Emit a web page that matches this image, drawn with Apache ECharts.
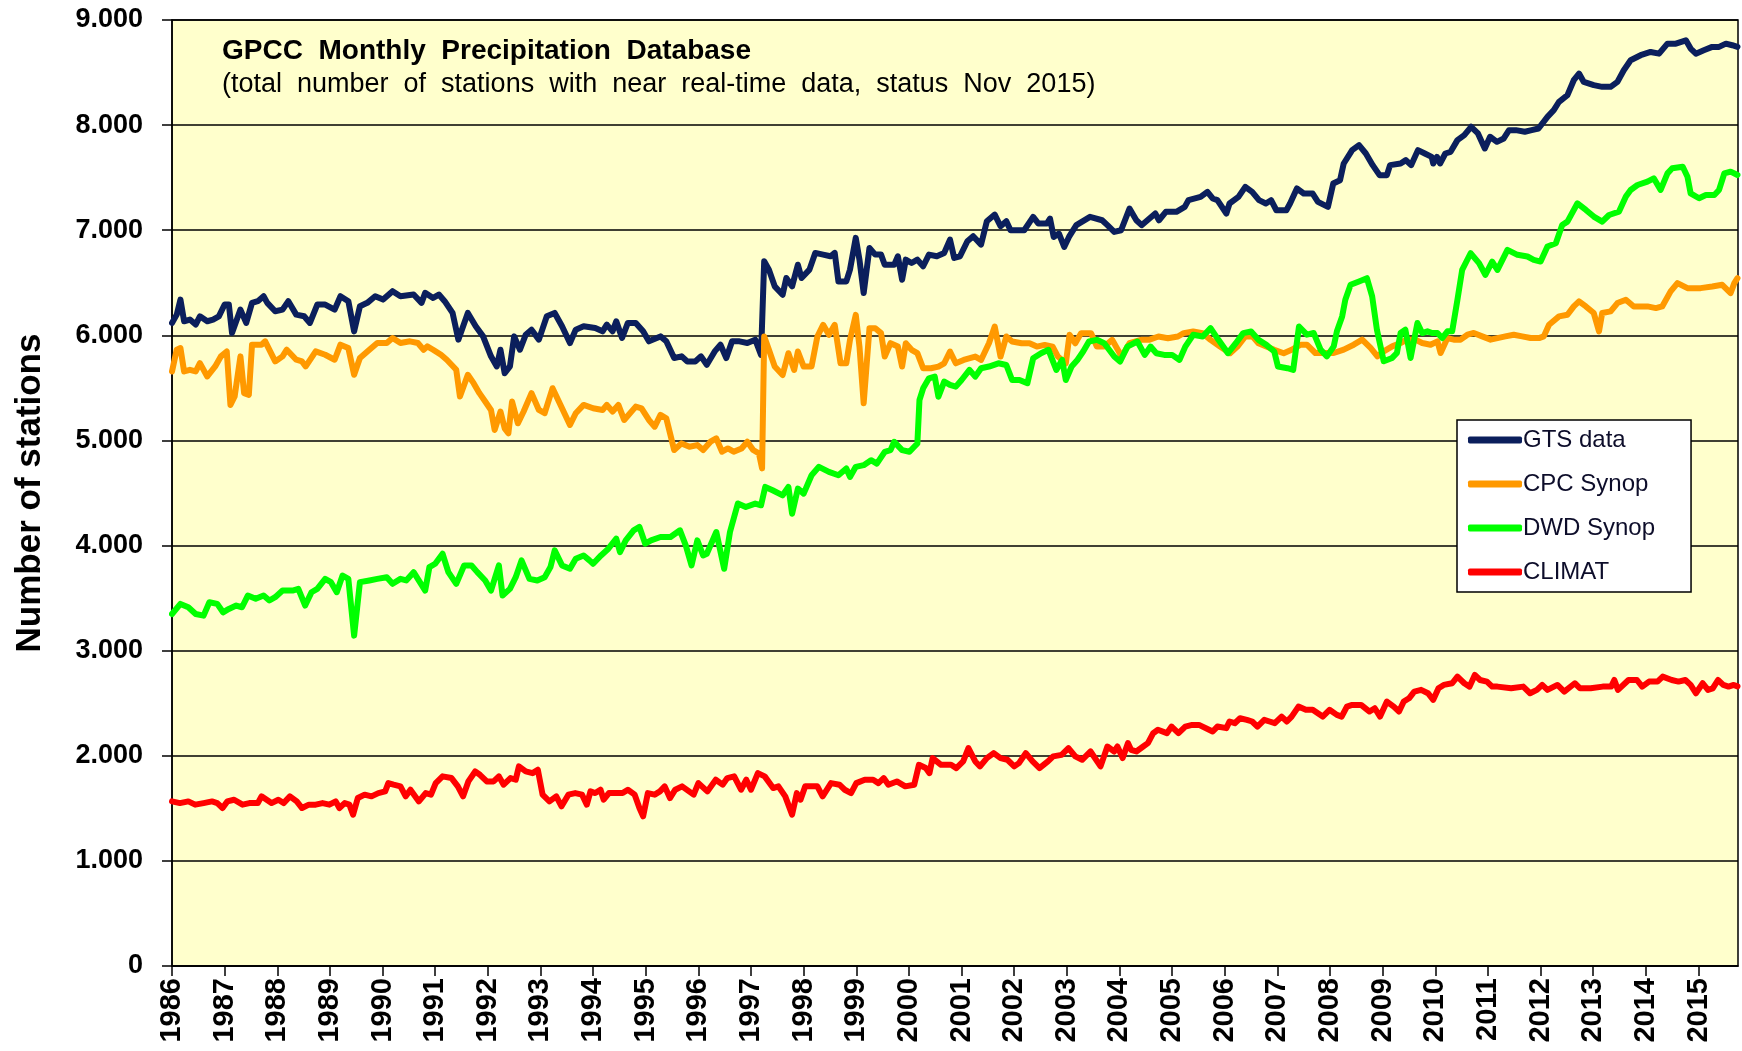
<!DOCTYPE html>
<html>
<head>
<meta charset="utf-8">
<script src="https://cdn.jsdelivr.net/npm/echarts@6/dist/echarts.min.js"></script>
<style>
html,body{margin:0;padding:0;background:#ffffff;}
#chart{width:1742px;height:1051px;}
</style>
</head>
<body>
<div id="chart"></div>
<script>
// ---- data (decimal year, number of stations) ----
const yearTicks = [1986,1987,1988,1989,1990,1991,1992,1993,1994,1995,1996,1997,1998,1999,2000,2001,2002,2003,2004,2005,2006,2007,2008,2009,2010,2011,2012,2013,2014,2015];
const seriesNames = ['GTS data','CPC Synop','DWD Synop','CLIMAT'];

const gtsData = [
[1986.00,6118],[1986.09,6197],[1986.16,6340],[1986.23,6134],[1986.34,6150],[1986.45,6102],[1986.53,6181],[1986.67,6134],[1986.78,6150],[1986.89,6181],
[1987.00,6293],[1987.08,6293],[1987.14,6022],[1987.30,6245],[1987.41,6118],[1987.52,6309],[1987.63,6325],[1987.74,6372],[1987.81,6309],[1987.96,6229],
[1988.10,6245],[1988.21,6325],[1988.36,6197],[1988.51,6181],[1988.62,6118],[1988.76,6293],[1988.91,6293],[1989.09,6245],[1989.20,6372],[1989.35,6325],
[1989.46,6038],[1989.57,6277],[1989.71,6309],[1989.86,6372],[1990.01,6340],[1990.19,6420],[1990.34,6372],[1990.59,6388],[1990.74,6309],[1990.81,6404],
[1990.96,6356],[1991.07,6388],[1991.18,6325],[1991.33,6213],[1991.44,5959],[1991.62,6213],[1991.77,6086],[1991.91,5990],[1992.06,5800],[1992.17,5704],
[1992.24,5863],[1992.32,5640],[1992.42,5704],[1992.50,5990],[1992.61,5863],[1992.72,6006],[1992.83,6054],[1992.97,5959],[1993.12,6181],[1993.27,6213],
[1993.41,6086],[1993.56,5927],[1993.67,6054],[1993.82,6086],[1994.04,6070],[1994.18,6038],[1994.26,6102],[1994.37,6038],[1994.44,6134],[1994.55,5975],
[1994.66,6118],[1994.81,6118],[1994.95,6038],[1995.06,5943],[1995.21,5975],[1995.28,5990],[1995.39,5943],[1995.54,5784],[1995.68,5800],[1995.79,5752],
[1995.94,5752],[1996.05,5800],[1996.16,5720],[1996.31,5847],[1996.42,5911],[1996.53,5784],[1996.64,5943],[1996.78,5943],[1996.93,5927],[1997.08,5959],
[1997.19,5814],[1997.25,6704],[1997.34,6625],[1997.45,6466],[1997.60,6386],[1997.67,6545],[1997.78,6466],[1997.89,6672],[1997.96,6545],[1998.11,6625],
[1998.22,6784],[1998.37,6768],[1998.51,6752],[1998.59,6784],[1998.66,6513],[1998.81,6513],[1998.88,6625],[1998.99,6927],[1999.06,6720],[1999.14,6402],
[1999.25,6831],[1999.36,6768],[1999.47,6768],[1999.54,6672],[1999.72,6672],[1999.79,6752],[1999.87,6529],[1999.94,6720],[2000.05,6688],[2000.16,6720],
[2000.27,6657],[2000.38,6768],[2000.53,6752],[2000.67,6784],[2000.78,6911],[2000.86,6736],[2000.97,6752],[2001.11,6895],[2001.22,6943],[2001.37,6863],
[2001.48,7086],[2001.63,7149],[2001.74,7038],[2001.85,7086],[2001.93,7000],[2002.19,7000],[2002.36,7127],[2002.46,7063],[2002.62,7063],[2002.68,7111],
[2002.75,6936],[2002.85,6968],[2002.95,6841],[2003.04,6936],[2003.18,7048],[2003.44,7127],[2003.67,7095],[2003.77,7048],[2003.90,6984],[2004.03,7000],
[2004.19,7206],[2004.32,7095],[2004.42,7048],[2004.68,7159],[2004.75,7095],[2004.88,7175],[2005.08,7175],[2005.24,7222],[2005.31,7286],[2005.54,7317],
[2005.67,7365],[2005.77,7302],[2005.86,7286],[2006.03,7159],[2006.09,7254],[2006.26,7317],[2006.39,7413],[2006.52,7365],[2006.65,7286],[2006.78,7254],
[2006.88,7286],[2006.98,7190],[2007.17,7190],[2007.24,7254],[2007.37,7397],[2007.50,7349],[2007.67,7349],[2007.77,7270],[2007.96,7222],[2008.06,7444],
[2008.19,7476],[2008.26,7635],[2008.42,7762],[2008.55,7810],[2008.68,7730],[2008.81,7619],[2008.94,7524],[2009.08,7524],[2009.14,7619],[2009.34,7635],
[2009.44,7667],[2009.54,7619],[2009.67,7762],[2009.80,7730],[2009.93,7698],[2009.96,7635],[2010.03,7698],[2010.09,7635],[2010.19,7730],[2010.29,7746],
[2010.42,7857],[2010.55,7905],[2010.68,7984],[2010.81,7921],[2010.94,7778],[2011.04,7889],[2011.17,7841],[2011.30,7873],[2011.40,7952],[2011.53,7952],
[2011.70,7937],[2011.83,7952],[2011.96,7968],[2012.13,8079],[2012.25,8142],[2012.35,8222],[2012.51,8285],[2012.63,8427],[2012.73,8490],[2012.82,8411],
[2013.01,8380],[2013.17,8364],[2013.33,8364],[2013.46,8411],[2013.58,8522],[2013.71,8617],[2013.90,8665],[2014.09,8696],[2014.25,8680],[2014.41,8775],
[2014.57,8775],[2014.76,8807],[2014.85,8728],[2014.95,8680],[2015.10,8712],[2015.26,8744],[2015.39,8744],[2015.52,8775],[2015.64,8760],[2015.74,8744]
];

const cpcData = [
[1986.00,5656],[1986.09,5863],[1986.16,5879],[1986.23,5656],[1986.34,5672],[1986.45,5656],[1986.53,5736],[1986.67,5609],[1986.82,5704],[1986.93,5800],
[1987.04,5847],[1987.11,5338],[1987.19,5418],[1987.30,5800],[1987.37,5450],[1987.46,5434],[1987.52,5911],[1987.70,5911],[1987.77,5943],[1987.96,5752],
[1988.10,5800],[1988.18,5863],[1988.36,5768],[1988.47,5752],[1988.54,5704],[1988.73,5847],[1988.91,5815],[1989.09,5768],[1989.20,5911],[1989.35,5879],
[1989.46,5625],[1989.57,5784],[1989.75,5863],[1989.90,5927],[1990.08,5927],[1990.19,5975],[1990.34,5927],[1990.52,5943],[1990.67,5927],[1990.78,5863],
[1990.85,5895],[1990.96,5863],[1991.11,5815],[1991.22,5768],[1991.40,5672],[1991.47,5418],[1991.62,5625],[1991.73,5545],[1991.84,5450],[1991.95,5370],
[1992.06,5290],[1992.13,5100],[1992.24,5275],[1992.32,5115],[1992.39,5068],[1992.46,5370],[1992.57,5163],[1992.68,5275],[1992.83,5450],[1992.97,5290],
[1993.08,5259],[1993.23,5497],[1993.41,5306],[1993.56,5147],[1993.67,5259],[1993.82,5338],[1994.00,5306],[1994.18,5290],[1994.26,5338],[1994.37,5275],
[1994.48,5338],[1994.59,5195],[1994.81,5322],[1994.92,5306],[1995.06,5195],[1995.17,5131],[1995.28,5243],[1995.39,5211],[1995.54,4909],[1995.68,4972],
[1995.83,4940],[1995.98,4956],[1996.09,4909],[1996.23,4988],[1996.34,5020],[1996.45,4893],[1996.56,4924],[1996.67,4893],[1996.82,4924],[1996.93,4988],
[1997.04,4909],[1997.15,4877],[1997.21,4734],[1997.25,5989],[1997.34,5862],[1997.45,5703],[1997.60,5623],[1997.71,5830],[1997.82,5671],[1997.89,5846],
[1998.00,5703],[1998.15,5703],[1998.26,5989],[1998.37,6100],[1998.48,6005],[1998.59,6100],[1998.70,5734],[1998.81,5734],[1998.88,5957],[1998.99,6195],
[1999.06,5893],[1999.14,5353],[1999.25,6068],[1999.36,6068],[1999.47,6021],[1999.54,5798],[1999.65,5925],[1999.79,5893],[1999.87,5703],[1999.94,5925],
[2000.05,5862],[2000.16,5830],[2000.27,5687],[2000.42,5687],[2000.56,5703],[2000.67,5734],[2000.78,5846],[2000.89,5734],[2001.04,5766],[2001.26,5798],
[2001.37,5766],[2001.52,5925],[2001.63,6084],[2001.74,5798],[2001.85,5989],[2001.96,5941],[2002.14,5925],[2002.29,5925],[2002.43,5893],[2002.58,5909],
[2002.73,5893],[2002.83,5798],[2002.98,5734],[2003.05,6005],[2003.16,5925],[2003.27,6021],[2003.46,6021],[2003.57,5893],[2003.71,5893],[2003.86,5957],
[2004.04,5798],[2004.19,5925],[2004.41,5957],[2004.56,5957],[2004.74,5989],[2004.92,5973],[2005.11,5989],[2005.22,6021],[2005.40,6036],[2005.58,6021],
[2005.73,5957],[2005.91,5893],[2006.10,5830],[2006.24,5893],[2006.39,5989],[2006.53,5989],[2006.64,5925],[2006.79,5893],[2006.94,5862],[2007.12,5830],
[2007.27,5862],[2007.44,5911],[2007.56,5911],[2007.72,5832],[2007.88,5832],[2008.07,5832],[2008.26,5864],[2008.45,5911],[2008.61,5959],[2008.77,5880],
[2008.90,5800],[2009.02,5848],[2009.18,5895],[2009.34,5927],[2009.46,5959],[2009.62,5959],[2009.75,5927],[2009.91,5911],[2010.04,5943],[2010.10,5832],
[2010.23,5974],[2010.35,5959],[2010.48,5959],[2010.61,6006],[2010.73,6022],[2010.89,5990],[2011.05,5959],[2011.18,5974],[2011.33,5990],[2011.49,6006],
[2011.65,5990],[2011.81,5974],[2011.97,5974],[2012.06,5990],[2012.16,6101],[2012.35,6180],[2012.51,6196],[2012.63,6275],[2012.73,6323],[2012.86,6275],
[2013.01,6212],[2013.11,6038],[2013.17,6212],[2013.33,6228],[2013.46,6307],[2013.62,6338],[2013.77,6275],[2014.03,6275],[2014.19,6259],[2014.31,6275],
[2014.47,6418],[2014.60,6497],[2014.79,6449],[2015.04,6449],[2015.26,6465],[2015.45,6481],[2015.61,6402],[2015.68,6497],[2015.74,6544]
];

const dwdData = [
[1986.00,3349],[1986.16,3445],[1986.31,3413],[1986.45,3349],[1986.60,3333],[1986.71,3461],[1986.86,3445],[1986.97,3365],[1987.08,3397],[1987.22,3429],
[1987.33,3413],[1987.44,3524],[1987.59,3493],[1987.74,3524],[1987.85,3477],[1987.96,3509],[1988.10,3572],[1988.29,3572],[1988.40,3588],[1988.53,3429],
[1988.65,3556],[1988.76,3588],[1988.91,3683],[1989.02,3652],[1989.13,3556],[1989.24,3715],[1989.35,3683],[1989.46,3143],[1989.57,3652],[1989.75,3668],
[1989.90,3683],[1990.08,3699],[1990.19,3636],[1990.34,3683],[1990.45,3668],[1990.59,3747],[1990.81,3572],[1990.89,3795],[1991.00,3827],[1991.14,3922],
[1991.25,3747],[1991.40,3636],[1991.55,3811],[1991.69,3811],[1991.80,3747],[1991.95,3668],[1992.06,3572],[1992.21,3811],[1992.28,3524],[1992.42,3588],
[1992.53,3699],[1992.64,3859],[1992.79,3683],[1992.94,3668],[1993.08,3699],[1993.19,3795],[1993.27,3954],[1993.41,3811],[1993.56,3779],[1993.67,3874],
[1993.82,3906],[1993.93,3859],[1994.00,3827],[1994.15,3906],[1994.29,3970],[1994.44,4065],[1994.51,3938],[1994.62,4049],[1994.77,4145],[1994.88,4177],
[1994.99,4018],[1995.10,4049],[1995.28,4081],[1995.47,4081],[1995.65,4145],[1995.76,4002],[1995.87,3811],[1995.98,4049],[1996.09,3906],[1996.16,3922],
[1996.34,4129],[1996.49,3779],[1996.60,4129],[1996.75,4400],[1996.90,4367],[1997.08,4399],[1997.19,4383],[1997.27,4558],[1997.41,4526],[1997.60,4478],
[1997.71,4558],[1997.78,4303],[1997.89,4542],[1998.00,4494],[1998.15,4669],[1998.29,4749],[1998.48,4701],[1998.66,4669],[1998.81,4733],[1998.88,4653],
[1998.99,4749],[1999.14,4765],[1999.28,4812],[1999.39,4780],[1999.54,4892],[1999.65,4908],[1999.72,4987],[1999.87,4908],[2000.01,4892],[2000.16,4971],
[2000.20,5385],[2000.27,5496],[2000.38,5591],[2000.49,5607],[2000.56,5416],[2000.67,5560],[2000.78,5528],[2000.89,5512],[2001.00,5575],[2001.15,5671],
[2001.26,5607],[2001.37,5687],[2001.52,5703],[2001.70,5734],[2001.85,5718],[2001.96,5575],[2002.10,5575],[2002.25,5544],[2002.36,5782],[2002.51,5830],
[2002.65,5862],[2002.80,5671],[2002.91,5766],[2002.98,5575],[2003.09,5703],[2003.20,5766],[2003.31,5846],[2003.42,5941],[2003.57,5957],[2003.71,5925],
[2003.90,5798],[2004.01,5750],[2004.15,5893],[2004.34,5941],[2004.48,5814],[2004.59,5893],[2004.70,5830],[2004.85,5814],[2005.00,5814],[2005.14,5766],
[2005.25,5893],[2005.40,6005],[2005.58,5989],[2005.73,6068],[2005.88,5957],[2006.06,5830],[2006.21,5925],[2006.35,6021],[2006.50,6036],[2006.64,5957],
[2006.79,5909],[2006.94,5846],[2007.01,5703],[2007.19,5687],[2007.30,5671],[2007.41,6084],[2007.56,6006],[2007.69,6022],[2007.82,5864],[2007.94,5800],
[2008.07,5895],[2008.13,6038],[2008.23,6180],[2008.29,6338],[2008.39,6481],[2008.55,6513],[2008.70,6544],[2008.80,6370],[2008.89,6054],[2009.02,5753],
[2009.18,5785],[2009.27,5832],[2009.34,6022],[2009.43,6054],[2009.53,5785],[2009.66,6117],[2009.75,6022],[2009.85,6038],[2009.94,6022],[2010.04,6022],
[2010.13,5974],[2010.23,6038],[2010.32,6038],[2010.42,6338],[2010.51,6623],[2010.67,6781],[2010.83,6687],[2010.95,6576],[2011.08,6702],[2011.18,6623],
[2011.37,6813],[2011.56,6766],[2011.75,6750],[2011.87,6718],[2012.00,6702],[2012.13,6845],[2012.29,6876],[2012.41,7050],[2012.51,7082],[2012.70,7256],
[2012.86,7193],[2013.01,7130],[2013.17,7082],[2013.30,7145],[2013.49,7177],[2013.62,7320],[2013.71,7383],[2013.84,7430],[2014.03,7462],[2014.15,7494],
[2014.28,7383],[2014.41,7541],[2014.50,7589],[2014.70,7604],[2014.79,7509],[2014.85,7351],[2015.01,7304],[2015.14,7335],[2015.30,7335],[2015.39,7383],
[2015.49,7541],[2015.61,7557],[2015.74,7525]
];

const climatData = [
[1986.00,1566],[1986.15,1550],[1986.31,1566],[1986.44,1535],[1986.60,1550],[1986.76,1566],[1986.86,1550],[1986.96,1503],[1987.05,1566],[1987.18,1582],
[1987.34,1535],[1987.47,1550],[1987.63,1550],[1987.70,1614],[1987.89,1550],[1988.02,1582],[1988.12,1550],[1988.24,1614],[1988.37,1566],[1988.47,1503],
[1988.60,1535],[1988.73,1535],[1988.86,1550],[1988.99,1535],[1989.11,1566],[1989.18,1503],[1989.28,1550],[1989.37,1535],[1989.44,1440],[1989.53,1598],
[1989.66,1630],[1989.79,1614],[1989.92,1645],[1990.05,1661],[1990.11,1740],[1990.21,1725],[1990.34,1709],[1990.44,1614],[1990.53,1677],[1990.69,1566],
[1990.82,1645],[1990.92,1630],[1991.01,1740],[1991.14,1804],[1991.31,1788],[1991.43,1709],[1991.53,1614],[1991.63,1756],[1991.76,1851],[1991.85,1819],
[1991.98,1756],[1992.11,1756],[1992.21,1804],[1992.30,1725],[1992.43,1788],[1992.53,1772],[1992.59,1899],[1992.72,1851],[1992.85,1835],[1992.95,1867],
[1993.04,1630],[1993.17,1566],[1993.30,1614],[1993.40,1519],[1993.53,1630],[1993.66,1645],[1993.79,1630],[1993.88,1535],[1993.95,1661],[1994.04,1645],
[1994.14,1677],[1994.20,1582],[1994.30,1645],[1994.56,1645],[1994.66,1677],[1994.79,1630],[1994.88,1503],[1994.95,1424],[1995.04,1645],[1995.17,1630],
[1995.27,1661],[1995.36,1709],[1995.46,1598],[1995.56,1677],[1995.69,1709],[1995.91,1630],[1996.00,1740],[1996.17,1661],[1996.33,1772],[1996.46,1725],
[1996.55,1788],[1996.68,1804],[1996.81,1677],[1996.91,1772],[1997.00,1677],[1997.13,1835],[1997.26,1804],[1997.42,1693],[1997.52,1709],[1997.65,1614],
[1997.78,1440],[1997.87,1645],[1997.94,1582],[1998.03,1709],[1998.26,1709],[1998.36,1614],[1998.52,1740],[1998.68,1725],[1998.78,1677],[1998.90,1645],
[1999.00,1740],[1999.16,1772],[1999.32,1772],[1999.42,1740],[1999.52,1788],[1999.61,1725],[1999.77,1756],[1999.93,1709],[2000.10,1725],[2000.19,1914],
[2000.32,1883],[2000.39,1835],[2000.45,1978],[2000.61,1914],[2000.80,1914],[2000.90,1883],[2001.03,1946],[2001.13,2073],[2001.26,1946],[2001.35,1899],
[2001.48,1978],[2001.61,2025],[2001.74,1978],[2001.87,1962],[2002.00,1899],[2002.09,1930],[2002.22,2025],[2002.35,1946],[2002.48,1883],[2002.64,1946],
[2002.74,1994],[2002.90,2009],[2003.03,2073],[2003.16,1994],[2003.29,1962],[2003.45,2041],[2003.64,1899],[2003.77,2088],[2003.90,2041],[2003.96,2088],
[2004.06,1978],[2004.16,2120],[2004.22,2057],[2004.32,2041],[2004.45,2088],[2004.54,2120],[2004.64,2215],[2004.73,2247],[2004.90,2215],[2004.99,2278],
[2005.12,2215],[2005.25,2278],[2005.38,2294],[2005.51,2294],[2005.77,2231],[2005.86,2278],[2006.03,2263],[2006.09,2326],[2006.19,2310],[2006.29,2357],
[2006.42,2342],[2006.52,2326],[2006.62,2278],[2006.75,2342],[2006.85,2326],[2006.95,2310],[2007.08,2373],[2007.18,2326],[2007.27,2373],[2007.40,2468],
[2007.54,2437],[2007.67,2437],[2007.86,2373],[2007.99,2437],[2008.13,2389],[2008.22,2373],[2008.32,2468],[2008.42,2484],[2008.59,2484],[2008.75,2421],
[2008.85,2452],[2008.95,2373],[2009.08,2516],[2009.21,2468],[2009.31,2421],[2009.40,2516],[2009.50,2547],[2009.60,2611],[2009.73,2627],[2009.86,2595],
[2009.96,2532],[2010.06,2642],[2010.16,2674],[2010.32,2690],[2010.42,2753],[2010.55,2690],[2010.65,2658],[2010.75,2769],[2010.85,2721],[2010.98,2706],
[2011.08,2658],[2011.18,2658],[2011.44,2642],[2011.67,2658],[2011.80,2595],[2011.93,2627],[2012.03,2674],[2012.13,2627],[2012.32,2674],[2012.45,2611],
[2012.65,2690],[2012.75,2642],[2012.95,2642],[2013.18,2658],[2013.34,2658],[2013.40,2721],[2013.47,2627],[2013.67,2721],[2013.83,2721],[2013.93,2658],
[2014.06,2706],[2014.22,2706],[2014.32,2753],[2014.49,2721],[2014.62,2706],[2014.75,2721],[2014.85,2674],[2014.95,2595],[2015.08,2690],[2015.18,2627],
[2015.27,2642],[2015.37,2721],[2015.47,2674],[2015.57,2658],[2015.67,2674],[2015.74,2660]
];

const colors = ['#0B1F5C','#FF9900','#00FF00','#FF0000'];
const FONT = 'Liberation Sans, Arial, sans-serif';

const chart = echarts.init(document.getElementById('chart'), null, {renderer:'canvas'});

function mkSeries(name, data, color){
  return {
    name: name, type: 'line', data: data,
    symbol: 'none', smooth: false,
    lineStyle: {color: color, width: 6, join: 'round', cap: 'round'},
    itemStyle: {color: color},
    animation: false
  };
}

chart.setOption({
  animation: false,
  backgroundColor: '#ffffff',
  grid: {
    left: 172, right: 4, top: 20, bottom: 85,
    show: true, backgroundColor: '#FFFFCC', borderColor: '#000000', borderWidth: 1.5
  },
  graphic: [
    {type:'text', x: 222, y: 51, z: 10,
     style:{text:'GPCC  Monthly  Precipitation  Database', font:'bold 28px ' + FONT, fill:'#000000', verticalAlign:'middle'}},
    {type:'text', x: 222, y: 85, z: 10,
     style:{text:'(total  number  of  stations  with  near  real-time  data,  status  Nov  2015)', font:'27px ' + FONT, fill:'#000000', verticalAlign:'middle'}}
  ],
  legend: {
    orient: 'vertical', left: 1457, top: 420,
    backgroundColor: '#ffffff', borderColor: '#000000', borderWidth: 1.5,
    padding: [8, 36, 8, 11],
    icon: 'roundRect',
    itemWidth: 54, itemHeight: 7, itemGap: 20,
    textStyle: {fontFamily: FONT, fontSize: 24, color: '#0d0d2a', lineHeight: 22, padding: [0,0,0,-4]},
    data: seriesNames
  },
  xAxis: {
    type: 'value', min: 1986, max: 2015.75,
    axisLine: {show: true, lineStyle: {color: '#000000', width: 1.5}},
    axisTick: {show: true, inside: false, length: 10, lineStyle: {color:'#000000', width: 1.5}, customValues: yearTicks},
    axisLabel: {rotate: 90, margin: 12, fontFamily: FONT, fontWeight: 'bold', fontSize: 29, color: '#000000',
      customValues: yearTicks, formatter: function(v){ return String(Math.round(v)); }},
    splitLine: {show: false}
  },
  yAxis: {
    type: 'value', min: 0, max: 9000, interval: 1000,
    name: 'Number of stations', nameLocation: 'middle', nameGap: 124, nameRotate: 90,
    nameTextStyle: {fontFamily: FONT, fontWeight: 'bold', fontSize: 35, color: '#000000'},
    axisLine: {show: true, lineStyle: {color: '#000000', width: 1.5}},
    axisTick: {show: true, inside: false, length: 10, lineStyle: {color:'#000000', width: 1.5}},
    axisLabel: {margin: 29, fontFamily: FONT, fontWeight: 'bold', fontSize: 27, color: '#000000',
      formatter: function(v){ return v === 0 ? '0' : (v/1000) + '.000'; }},
    splitLine: {show: true, lineStyle: {color: '#000000', width: 1.5}}
  },
  series: [
    mkSeries(seriesNames[0], gtsData, colors[0]),
    mkSeries(seriesNames[1], cpcData, colors[1]),
    mkSeries(seriesNames[2], dwdData, colors[2]),
    mkSeries(seriesNames[3], climatData, colors[3])
  ]
});
</script>
</body>
</html>
